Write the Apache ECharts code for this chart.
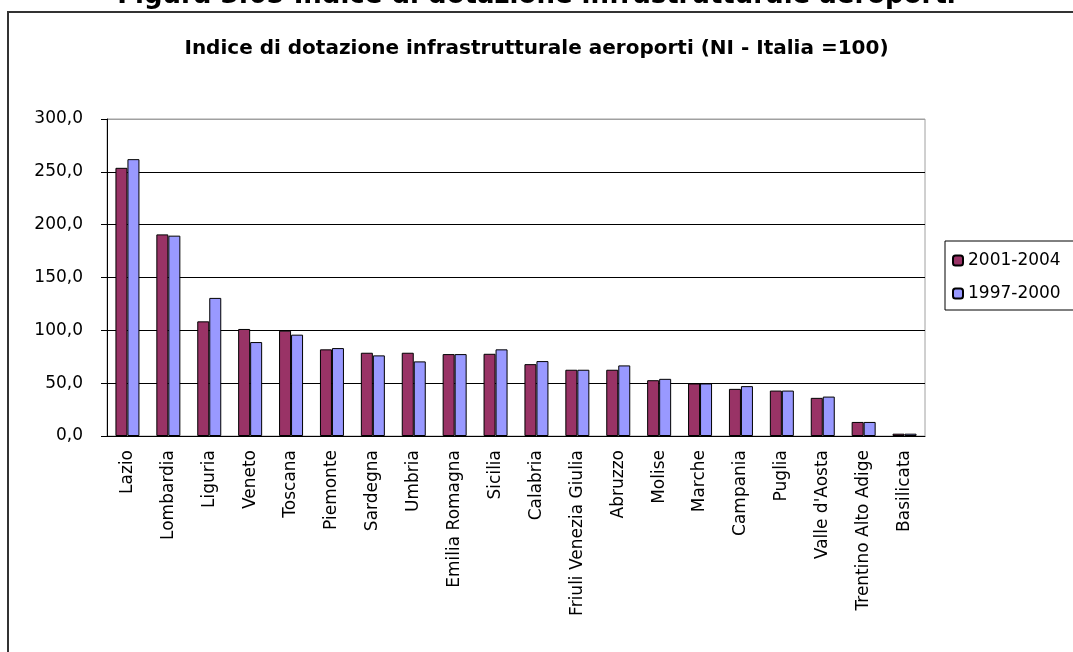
<!DOCTYPE html>
<html>
<head>
<meta charset="utf-8">
<script src="https://cdn.jsdelivr.net/npm/echarts@6/dist/echarts.min.js"></script>
<style>
  html, body { margin: 0; padding: 0; background: #fff; }
  #main { width: 1073px; height: 652px; }
</style>
</head>
<body>
<div id="main"></div>
<script>
// dati
var regioni = ['Lazio', 'Lombardia', 'Liguria', 'Veneto', 'Toscana', 'Piemonte', 'Sardegna', 'Umbria',
  'Emilia Romagna', 'Sicilia', 'Calabria', 'Friuli Venezia Giulia', 'Abruzzo', 'Molise', 'Marche',
  'Campania', 'Puglia', "Valle d'Aosta", 'Trentino Alto Adige', 'Basilicata'];
var val2001_2004 = [253.8, 190.8, 108.5, 101.3, 99.7, 82.0, 78.8, 78.8, 77.5, 77.8,
  68.0, 62.7, 62.7, 52.8, 49.7, 44.6, 43.0, 36.1, 13.3, 2.2];
var val1997_2000 = [262.0, 189.6, 130.7, 88.9, 95.9, 83.2, 76.3, 70.6, 77.5, 82.0,
  70.9, 62.7, 66.8, 54.1, 49.7, 47.2, 43.0, 37.3, 13.3, 2.2];
var serieNomi = ['2001-2004', '1997-2000'];
var colori = ['#993366', '#9999ff'];

var font = 'DejaVu Sans';

var myChart = echarts.init(document.getElementById('main'));
myChart.setOption({
  animation: false,
  backgroundColor: '#fff',
  textStyle: { fontFamily: font },
  title: [{
    text: 'Figura 3.65 Indice di dotazione infrastrutturale aeroporti',
    left: 'center',
    top: -22,
    textStyle: { color: '#000', fontWeight: 'bold', fontSize: 26, fontFamily: font }
  }, {
    text: 'Indice di dotazione infrastrutturale aeroporti (NI - Italia =100)',
    left: 'center',
    top: 34,
    textStyle: { color: '#000', fontWeight: 'bold', fontSize: 20, fontFamily: font }
  }],
  graphic: [{
    type: 'rect',
    shape: { x: 8, y: 12, width: 1200, height: 800 },
    style: { fill: 'none', stroke: '#333', lineWidth: 2 },
    z: -1
  }],
  legend: {
    orient: 'vertical',
    left: 945,
    top: 241,
    itemWidth: 10,
    itemHeight: 10,
    itemGap: 16,
    padding: [11, 40, 8, 7],
    borderColor: '#000',
    borderWidth: 1,
    textStyle: { color: '#000', fontSize: 17, fontFamily: font },
    data: serieNomi
  },
  grid: {
    left: 107, right: 148, top: 119, bottom: 216,
    show: true, borderColor: '#a0a0a0', borderWidth: 1
  },
  xAxis: {
    type: 'category',
    data: regioni,
    axisLine: { lineStyle: { color: '#000', width: 1 } },
    axisTick: { length: 6, lineStyle: { color: '#000' } },
    axisLabel: { rotate: 90, interval: 0, margin: 14, color: '#000', fontSize: 17, fontFamily: font }
  },
  yAxis: {
    type: 'value',
    min: 0, max: 300, interval: 50,
    axisLine: { show: true, lineStyle: { color: '#000', width: 1 } },
    axisTick: { show: true, length: 6, lineStyle: { color: '#000' } },
    axisLabel: {
      margin: 24, color: '#000', fontSize: 17, fontFamily: font,
      formatter: function (v) { return v.toFixed(1).replace('.', ','); }
    },
    splitLine: { lineStyle: { color: ['#000', '#000', '#000', '#000', '#000', '#000', '#a0a0a0'], width: 1 } }
  },
  series: [{
    name: serieNomi[0],
    type: 'bar',
    data: val2001_2004,
    barWidth: 12,
    barGap: '0%',
    itemStyle: { color: colori[0], borderColor: '#000', borderWidth: 1 }
  }, {
    name: serieNomi[1],
    type: 'bar',
    data: val1997_2000,
    barWidth: 12,
    barGap: '0%',
    itemStyle: { color: colori[1], borderColor: '#000', borderWidth: 1 }
  }]
});
</script>
</body>
</html>
